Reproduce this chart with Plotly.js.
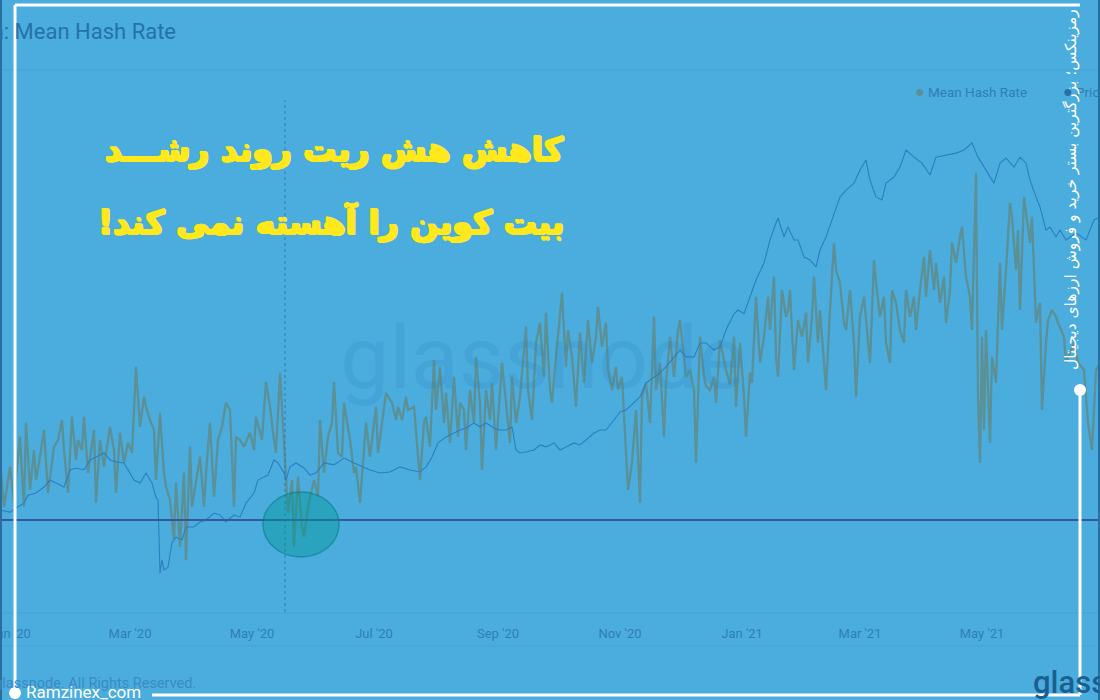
<!DOCTYPE html>
<html>
<head>
<meta charset="utf-8">
<script src="https://cdn.plot.ly/plotly-3.0.1.min.js"></script>
<style>
html,body{margin:0;padding:0;background:#4badde;}
#chart{width:1100px;height:700px;}
</style>
</head>
<body>
<div id="chart"></div>
<script>
// ---------- DATA ----------
const hashDates = ["2019-12-27","2019-12-29","2020-01-01","2020-01-03","2020-01-06","2020-01-08","2020-01-09","2020-01-11","2020-01-13","2020-01-14","2020-01-16","2020-01-18","2020-01-20","2020-01-23","2020-01-25","2020-01-27","2020-01-28","2020-01-30","2020-02-01","2020-02-03","2020-02-04","2020-02-06","2020-02-07","2020-02-09","2020-02-12","2020-02-13","2020-02-15","2020-02-17","2020-02-20","2020-02-22","2020-02-23","2020-02-25","2020-02-27","2020-02-29","2020-03-02","2020-03-04","2020-03-06","2020-03-08","2020-03-09","2020-03-11","2020-03-13","2020-03-14","2020-03-16","2020-03-18","2020-03-19","2020-03-21","2020-03-23","2020-03-24","2020-03-26","2020-03-28","2020-03-29","2020-03-31","2020-04-01","2020-04-03","2020-04-05","2020-04-07","2020-04-08","2020-04-10","2020-04-12","2020-04-14","2020-04-16","2020-04-18","2020-04-20","2020-04-22","2020-04-23","2020-04-25","2020-04-27","2020-04-30","2020-05-02","2020-05-03","2020-05-06","2020-05-08","2020-05-10","2020-05-12","2020-05-13","2020-05-15","2020-05-17","2020-05-19","2020-05-21","2020-05-22","2020-05-24","2020-05-26","2020-05-27","2020-05-29","2020-06-01","2020-06-03","2020-06-04","2020-06-06","2020-06-08","2020-06-10","2020-06-11","2020-06-13","2020-06-15","2020-06-16","2020-06-19","2020-06-21","2020-06-22","2020-06-24","2020-06-27","2020-06-29","2020-07-02","2020-07-03","2020-07-05","2020-07-07","2020-07-10","2020-07-12","2020-07-13","2020-07-15","2020-07-17","2020-07-18","2020-07-21","2020-07-22","2020-07-24","2020-07-26","2020-07-27","2020-07-29","2020-07-31","2020-08-01","2020-08-03","2020-08-05","2020-08-06","2020-08-08","2020-08-10","2020-08-12","2020-08-13","2020-08-15","2020-08-16","2020-08-18","2020-08-20","2020-08-21","2020-08-23","2020-08-24","2020-08-26","2020-08-28","2020-08-29","2020-08-31","2020-09-02","2020-09-03","2020-09-05","2020-09-07","2020-09-08","2020-09-10","2020-09-12","2020-09-15","2020-09-16","2020-09-18","2020-09-20","2020-09-22","2020-09-24","2020-09-25","2020-09-27","2020-09-28","2020-09-30","2020-10-03","2020-10-05","2020-10-06","2020-10-08","2020-10-10","2020-10-12","2020-10-14","2020-10-16","2020-10-18","2020-10-20","2020-10-21","2020-10-23","2020-10-25","2020-10-26","2020-10-28","2020-10-30","2020-10-31","2020-11-02","2020-11-04","2020-11-05","2020-11-07","2020-11-09","2020-11-11","2020-11-12","2020-11-14","2020-11-16","2020-11-18","2020-11-19","2020-11-21","2020-11-23","2020-11-24","2020-11-26","2020-11-28","2020-11-30","2020-12-01","2020-12-03","2020-12-04","2020-12-06","2020-12-08","2020-12-09","2020-12-11","2020-12-13","2020-12-14","2020-12-16","2020-12-18","2020-12-19","2020-12-21","2020-12-24","2020-12-26","2020-12-28","2020-12-29","2020-12-31","2021-01-02","2021-01-03","2021-01-05","2021-01-06","2021-01-08","2021-01-10","2021-01-12","2021-01-14","2021-01-15","2021-01-17","2021-01-18","2021-01-19","2021-01-21","2021-01-23","2021-01-24","2021-01-25","2021-01-27","2021-01-29","2021-01-31","2021-02-02","2021-02-03","2021-02-05","2021-02-06","2021-02-08","2021-02-09","2021-02-11","2021-02-12","2021-02-14","2021-02-16","2021-02-17","2021-02-19","2021-02-21","2021-02-22","2021-02-24","2021-02-26","2021-02-27","2021-03-01","2021-03-03","2021-03-04","2021-03-06","2021-03-08","2021-03-09","2021-03-11","2021-03-13","2021-03-14","2021-03-16","2021-03-17","2021-03-19","2021-03-21","2021-03-23","2021-03-24","2021-03-26","2021-03-28","2021-03-29","2021-03-31","2021-04-02","2021-04-03","2021-04-05","2021-04-07","2021-04-08","2021-04-10","2021-04-12","2021-04-13","2021-04-15","2021-04-16","2021-04-18","2021-04-20","2021-04-21","2021-04-23","2021-04-25","2021-04-26","2021-04-28","2021-04-29","2021-04-30","2021-05-01","2021-05-02","2021-05-03","2021-05-05","2021-05-06","2021-05-08","2021-05-10","2021-05-11","2021-05-13","2021-05-15","2021-05-16","2021-05-18","2021-05-19","2021-05-20","2021-05-22","2021-05-24","2021-05-25","2021-05-26","2021-05-28","2021-05-30","2021-05-31","2021-06-02","2021-06-03","2021-06-05","2021-06-07","2021-06-08","2021-06-11","2021-06-12","2021-06-16","2021-06-18","2021-06-21","2021-06-23","2021-06-25","2021-06-27","2021-06-29"];
const hashRate = [110,98.3,108.3,99.3,115.8,98.3,119.3,102.5,112.5,105,110.8,117.5,101.8,113.3,115,120,112.5,101.8,120.8,110,115,112.5,120.8,106.8,117.5,99.3,115,108.3,118.3,112.5,101.8,116.8,109.3,114.3,111.8,133.3,118.3,125.8,123.3,120,117.5,105,121.8,106.8,103.3,100,90,104.3,88.3,106.8,85,113.3,98.3,104.3,110.8,98.3,106.8,119.3,100.8,115,118.3,124.3,122.5,98.3,115.8,115,113.3,116.8,112.5,120.8,115,129.5,123.3,115,111.8,131.8,114.3,96.8,105,88.3,105.8,93.3,90.8,98.3,105,100.8,120,106.8,115.8,119.3,129.5,111.8,110.8,124.3,115,106.8,108.3,99.3,119.3,110.8,123.3,111.8,119.3,126.8,124.3,120,123.3,120,125.8,122.5,123.3,117.5,105,119.3,120.8,113.3,135,122.5,133.3,119.3,126.8,114.3,130.8,115.8,124.3,122.5,112.5,127.5,119.3,135.8,124.3,107.5,127.5,120,129.3,112.5,128.3,134.3,124.3,114.3,130.8,119.3,125.8,143.3,127.5,120,139.3,144.3,130.8,146.8,127.5,124.3,135.8,151.8,133.3,142.5,135.8,123.3,141.8,129.3,145,134.3,140.8,148.3,138.3,144.3,132.5,127.5,133.3,127.5,130.8,112.5,102.5,109.3,122.5,99.3,125.8,129.3,119.3,145.8,127.5,134.3,115.8,129.3,140.8,130.8,142.5,145,134.3,130.8,132.5,127.5,109.3,140.8,130.8,128.5,127.5,130.8,124.3,140,132.5,128.8,140.8,123.3,139.3,125.8,115.8,131.8,129.3,150.8,134.3,140.8,150.8,142.5,155.8,135.8,130.8,152.5,145.8,147.5,152.5,132.5,145,140.8,146.8,134.3,145.8,155.8,139.3,147.5,134.3,127.5,147.5,164.3,157.5,154.3,144.3,142.5,152.5,139.3,125.8,145.8,150.8,145.8,134.3,160,154.3,145.8,150.8,139.3,134.3,152.5,149.3,142.5,139.3,152.5,145.8,150.8,142.5,152.5,160.8,150.8,162.5,152.5,159.3,149.3,155.8,144.3,152.5,164.3,159.3,165.8,168.3,155.8,150.8,142.5,181.8,125.8,109.3,140.8,117.5,142.5,114.3,135.8,129.3,159.3,142.5,157.5,174.3,170.8,157.5,167.5,147.5,175.8,167.5,164.3,170.8,144.3,149.3,122.5,139.3,145,147.5,145.8,144.3,140.8,134.3,139.3,134.3,132.5,119.3,112.5,132.5,134.3];

const priceDates = ["2019-12-27","2020-01-01","2020-01-04","2020-01-08","2020-01-10","2020-01-14","2020-01-18","2020-01-21","2020-01-24","2020-01-28","2020-01-31","2020-02-03","2020-02-07","2020-02-10","2020-02-13","2020-02-17","2020-02-20","2020-02-23","2020-02-27","2020-02-29","2020-03-03","2020-03-06","2020-03-09","2020-03-12","2020-03-14","2020-03-15","2020-03-16","2020-03-17","2020-03-18","2020-03-20","2020-03-22","2020-03-24","2020-03-27","2020-03-29","2020-04-02","2020-04-05","2020-04-08","2020-04-12","2020-04-15","2020-04-18","2020-04-22","2020-04-25","2020-04-28","2020-05-02","2020-05-04","2020-05-07","2020-05-09","2020-05-12","2020-05-14","2020-05-17","2020-05-18","2020-05-20","2020-05-23","2020-05-27","2020-05-30","2020-06-02","2020-06-06","2020-06-11","2020-06-16","2020-06-21","2020-06-26","2020-06-29","2020-07-04","2020-07-09","2020-07-14","2020-07-19","2020-07-24","2020-07-27","2020-07-30","2020-08-02","2020-08-06","2020-08-10","2020-08-13","2020-08-16","2020-08-20","2020-08-23","2020-08-26","2020-08-30","2020-09-02","2020-09-05","2020-09-08","2020-09-10","2020-09-12","2020-09-15","2020-09-19","2020-09-22","2020-09-25","2020-09-29","2020-10-02","2020-10-05","2020-10-09","2020-10-12","2020-10-15","2020-10-19","2020-10-22","2020-10-25","2020-10-29","2020-11-01","2020-11-04","2020-11-08","2020-11-11","2020-11-14","2020-11-18","2020-11-21","2020-11-24","2020-11-28","2020-12-01","2020-12-04","2020-12-08","2020-12-11","2020-12-14","2020-12-18","2020-12-21","2020-12-24","2020-12-28","2020-12-30","2021-01-02","2021-01-05","2021-01-08","2021-01-12","2021-01-15","2021-01-18","2021-01-19","2021-01-22","2021-01-24","2021-01-27","2021-01-29","2021-02-01","2021-02-04","2021-02-07","2021-02-09","2021-02-12","2021-02-16","2021-02-19","2021-02-22","2021-02-26","2021-03-01","2021-03-04","2021-03-06","2021-03-09","2021-03-12","2021-03-14","2021-03-18","2021-03-21","2021-03-24","2021-03-28","2021-04-01","2021-04-05","2021-04-08","2021-04-13","2021-04-18","2021-04-22","2021-04-26","2021-04-29","2021-05-03","2021-05-07","2021-05-10","2021-05-13","2021-05-17","2021-05-20","2021-05-23","2021-05-25","2021-05-28","2021-05-30","2021-06-02","2021-06-04","2021-06-07","2021-06-09","2021-06-12","2021-06-17","2021-06-22","2021-06-26","2021-06-29"];
const priceUsd = [7200,7110,7285,7500,7860,7965,8250,8600,8450,8250,9130,9240,9130,9690,9860,10100,9690,9580,9520,9130,8600,8450,8970,8450,7770,7640,4950,5350,5040,5130,5920,6130,6025,6510,6510,6705,6785,7070,6990,6705,6990,6900,7500,7965,8600,8760,8860,9690,9520,8970,8600,9300,9520,9240,8860,8970,9520,9410,9800,9520,9300,9130,8970,9020,9300,9130,9020,9300,9860,10720,11110,11370,11570,11710,12070,11780,12070,11710,11570,11570,11780,10280,10100,10160,10280,10590,10470,10720,10280,10470,10720,10590,10910,11370,11570,11570,12280,12890,13040,13600,14080,15300,15860,16240,16830,17860,18610,17860,17860,19400,19400,18610,18950,20950,23070,23590,23070,25480,28190,31180,35740,39520,40720,36380,38600,35740,35740,32300,31740,30480,33680,36380,41930,46150,48080,50100,54140,57450,51020,46150,45310,50100,51900,55100,60970,58440,56400,52570,58440,59150,59860,60970,63550,58440,54140,50100,56400,58100,55100,58440,56400,51020,46150,43490,37920,38600,36380,37920,35740,37260,35740,40240,40970];

const tickFormat = "%b '%y";
const halvingDate = "2020-05-17 12:00";
const supportLevel = 95;           // EH/s reference line
const ellipseDates = ["2020-05-06 12:00","2020-06-13 12:00"];
const ellipseRange = [85.75, 102];

const chartTitle = "Bitcoin: Mean Hash Rate";
const legendNames = ["Mean Hash Rate","Price"];
const faTitle1 = "کاهش هش ریت روند رشـــد";
const faTitle2 = "بیت کوین را آهسته نمی کند!\u200F";
const faSide = "رمزینکس؛ بزرگترین بستر خرید و فروش ارزهای دیجیتال";
const brandText = "Ramzinex_com";
const copyText = "© 2021 glassnode. All Rights Reserved.";
const logoText = "glassnode";

// ---------- LAYOUT HELPERS (pixel -> paper) ----------
const W = 1100, PH = 615;
const px = x => x / W;
const py = y => (PH - y) / PH;

const BG = "#4badde";
const HASH_C = "#5a9096";
const PRICE_C = "#2b7fc0";
const TXT_C = "#2e7fb7";
const YEL = "#ffe81c";
const faShadow = "1px 0 0 " + YEL + ", -1px 0 0 " + YEL + ", 0 1px 0 " + YEL + ", 0 -1px 0 " + YEL + ", 1px 1px 0 " + YEL + ", -1px -1px 0 " + YEL;

const traces = [
  {x: priceDates, y: priceUsd, type: "scatter", mode: "lines", name: legendNames[1], yaxis: "y2",
   line: {color: PRICE_C, width: 1.1}, hoverinfo: "skip"},
  {x: hashDates, y: hashRate, type: "scatter", mode: "lines", name: legendNames[0], yaxis: "y",
   line: {color: HASH_C, width: 2.3}, hoverinfo: "skip"}
];

const white = "#ffffff";
const shapes = [
  {type:"line", xref:"paper", yref:"paper", x0:0, x1:1, y0:py(70), y1:py(70), line:{color:"rgba(40,120,180,0.22)", width:1}},
  {type:"line", xref:"paper", yref:"paper", x0:0, x1:1, y0:py(613), y1:py(613), line:{color:"rgba(40,120,180,0.22)", width:1}},
  {type:"line", xref:"paper", yref:"paper", x0:0, x1:1, y0:py(646), y1:py(646), line:{color:"rgba(40,120,180,0.18)", width:1}},
  {type:"line", xref:"x", yref:"paper", x0:halvingDate, x1:halvingDate, y0:py(612), y1:py(100), line:{color:"rgba(40,105,165,0.75)", width:1, dash:"dot"}},
  {type:"line", xref:"paper", yref:"y", x0:0, x1:1, y0:supportLevel, y1:supportLevel, line:{color:"#34599f", width:2}},
  {type:"circle", xref:"x", yref:"y", x0:ellipseDates[0], x1:ellipseDates[1], y0:ellipseRange[0], y1:ellipseRange[1],
   fillcolor:"rgba(0,150,150,0.45)", line:{color:"rgba(0,120,130,0.55)", width:1.5}},
  {type:"line", xref:"paper", yref:"paper", x0:px(1), x1:px(1), y0:py(0), y1:py(700), line:{color:"#2a6d9e", width:2}},
  {type:"line", xref:"paper", yref:"paper", x0:px(1099), x1:px(1099), y0:py(0), y1:py(700), line:{color:"#2a6d9e", width:2}},
  {type:"line", xref:"paper", yref:"paper", x0:px(15), x1:px(1080), y0:py(5), y1:py(5), line:{color:white, width:3}},
  {type:"line", xref:"paper", yref:"paper", x0:px(15), x1:px(15), y0:py(5), y1:py(693), line:{color:white, width:3}},
  {type:"line", xref:"paper", yref:"paper", x0:px(152), x1:px(1080), y0:py(695), y1:py(695), line:{color:white, width:3}},
  {type:"line", xref:"paper", yref:"paper", x0:px(1080), x1:px(1080), y0:py(390), y1:py(695), line:{color:white, width:3}},
  {type:"circle", xref:"paper", yref:"paper", x0:px(9), x1:px(21), y0:py(687), y1:py(699), fillcolor:white, line:{width:0}},
  {type:"circle", xref:"paper", yref:"paper", x0:px(1074), x1:px(1086), y0:py(384), y1:py(396), fillcolor:white, line:{width:0}}
];

const annotations = [
  {xref:"paper", yref:"paper", x:px(338), y:py(357), xanchor:"left", yanchor:"middle", showarrow:false,
   text: logoText, font:{family:"Roboto", size:88, color:"rgba(40,130,190,0.18)"}},
  {xref:"paper", yref:"paper", x:px(178), y:py(32), xanchor:"right", yanchor:"middle", showarrow:false,
   text: chartTitle, font:{family:"Roboto", size:22, color:"#2472a8"}},
  {xref:"paper", yref:"paper", x:px(913), y:py(92), xanchor:"left", yanchor:"middle", showarrow:false,
   text: '<span style="color:' + HASH_C + ';font-size:16px">●</span> ' + legendNames[0], font:{family:"Roboto", size:13.5, color:TXT_C}},
  {xref:"paper", yref:"paper", x:px(1061), y:py(92), xanchor:"left", yanchor:"middle", showarrow:false,
   text: '<span style="color:#2a6fa8;font-size:16px">●</span> ' + legendNames[1], font:{family:"Roboto", size:13.5, color:TXT_C}},
  {xref:"paper", yref:"paper", x:px(566), y:py(150), xanchor:"right", yanchor:"middle", showarrow:false,
   text: "<b>" + faTitle1 + "</b>", font:{family:"DejaVu Sans", size:33, color:YEL, shadow:faShadow}},
  {xref:"paper", yref:"paper", x:px(566), y:py(222), xanchor:"right", yanchor:"middle", showarrow:false,
   text: "<b>" + faTitle2 + "</b>", font:{family:"DejaVu Sans", size:33, color:YEL, shadow:faShadow}},
  {xref:"paper", yref:"paper", x:px(1071), y:py(190), xanchor:"center", yanchor:"middle", showarrow:false, textangle:-90,
   text: faSide, font:{family:"DejaVu Sans", size:15.5, color:white}},
  {xref:"paper", yref:"paper", x:px(24), y:py(692), xanchor:"left", yanchor:"middle", showarrow:false,
   text: brandText, font:{family:"Roboto", size:17, color:white}},
  {xref:"paper", yref:"paper", x:px(198), y:py(683), xanchor:"right", yanchor:"middle", showarrow:false,
   text: copyText, font:{family:"Roboto", size:14.5, color:"#3a8bc4"}},
  {xref:"paper", yref:"paper", x:px(1031), y:py(682), xanchor:"left", yanchor:"middle", showarrow:false,
   text: logoText, font:{family:"Roboto", size:31, color:"#1b5f91", weight:500}}
];

const layout = {
  width: 1100, height: 700,
  margin: {l:0, r:0, t:0, b:85, pad:0},
  paper_bgcolor: BG, plot_bgcolor: BG,
  showlegend: false,
  xaxis: {type:"date", range:["2019-12-27","2021-06-29"], tickformat: tickFormat, dtick:"M2", tick0:"2020-01-01",
          showgrid:false, zeroline:false, showline:false, ticks:"outside", ticklen:6, tickcolor:"rgba(0,0,0,0)",
          ticklabeloverflow:"allow",
          tickfont:{family:"Roboto", size:13, color:TXT_C}},
  yaxis: {range:[71.25, 225], visible:false, showgrid:false, zeroline:false, fixedrange:true},
  yaxis2: {type:"log", range:[3.5867, 5.1717], overlaying:"y", side:"right", visible:false, showgrid:false, zeroline:false},
  shapes: shapes,
  annotations: annotations
};

Plotly.newPlot("chart", traces, layout, {staticPlot:true, displayModeBar:false});
</script>
</body>
</html>
